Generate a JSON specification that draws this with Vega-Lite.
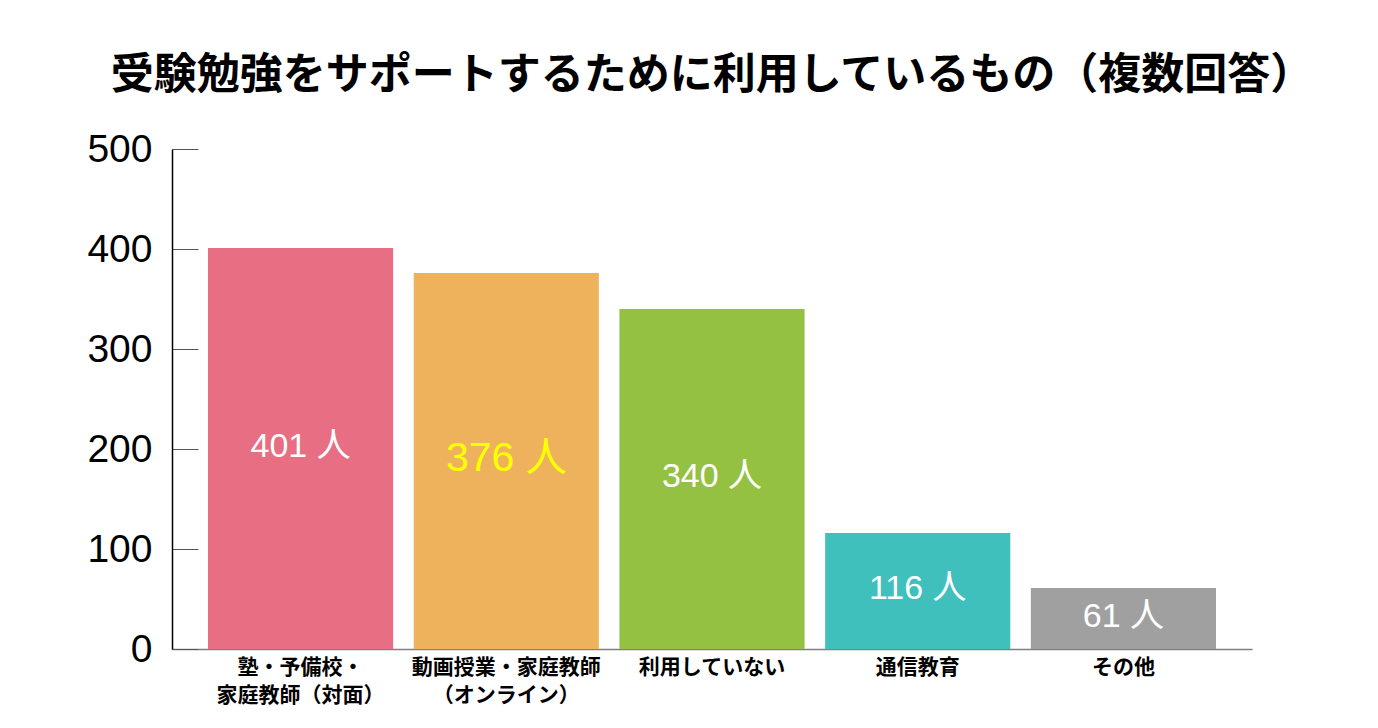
{
  "$schema": "https://vega.github.io/schema/vega-lite/v6.json",
  "width": 1080,
  "height": 500,
  "autosize": {"type": "none"},
  "padding": {"left": 172, "top": 149, "right": 126, "bottom": 79},
  "background": "white",
  "config": {"view": {"stroke": null}},
  "title": {
    "text": "受験勉強をサポートするために利用しているもの（複数回答）",
    "font": "Noto Sans CJK JP",
    "fontSize": 43,
    "fontWeight": "bold",
    "color": "#000000",
    "anchor": "middle",
    "offset": 32
  },
  "data": {
    "values": [
      {"category": "塾・予備校・|家庭教師（対面）", "count": 401, "label": "401 人", "color": "#E76E83"},
      {"category": "動画授業・家庭教師|（オンライン）", "count": 376, "label": "376 人", "color": "#EFB25C"},
      {"category": "利用していない", "count": 340, "label": "340 人", "color": "#95C142"},
      {"category": "通信教育", "count": 116, "label": "116 人", "color": "#40C0BC"},
      {"category": "その他", "count": 61, "label": "61 人", "color": "#A0A0A0"}
    ]
  },
  "encoding": {
    "x": {
      "field": "category",
      "type": "nominal",
      "sort": null,
      "scale": {"paddingInner": 0.1, "paddingOuter": 0.175},
      "axis": {
        "title": null,
        "labelAngle": 0,
        "labelExpr": "split(datum.label, '|')",
        "labelFont": "Noto Sans CJK JP",
        "labelFontWeight": "bold",
        "labelFontSize": 21,
        "labelColor": "#000000",
        "labelLineHeight": 28,
        "labelPadding": 7,
        "labelBaseline": "top",
        "labelLimit": 0,
        "ticks": false,
        "domainColor": "#808080",
        "domainWidth": 1.5,
        "grid": false
      }
    }
  },
  "layer": [
    {
      "mark": {"type": "bar"},
      "encoding": {
        "y": {
          "field": "count",
          "type": "quantitative",
          "scale": {"domain": [0, 500]},
          "axis": {
            "title": null,
            "values": [0, 100, 200, 300, 400, 500],
            "labelFont": "Liberation Sans",
            "labelFontSize": 39,
            "labelColor": "#000000",
            "labelPadding": 46,
            "tickSize": -26,
            "tickColor": "#555555",
            "tickWidth": 1,
            "domainColor": "#000000",
            "domainWidth": 1.5,
            "grid": false
          }
        },
        "color": {"field": "color", "type": "nominal", "scale": null, "legend": null}
      }
    },
    {
      "transform": [{"calculate": "datum.count / 2", "as": "mid"}],
      "mark": {"type": "text", "font": "Liberation Sans, Noto Sans CJK JP", "baseline": "middle", "align": "center", "dy": -2},
      "encoding": {
        "y": {"field": "mid", "type": "quantitative"},
        "text": {"field": "label"},
        "color": {"condition": {"test": "datum.count == 376", "value": "#FFFF00"}, "value": "#FFFFFF"},
        "size": {"condition": {"test": "datum.count == 376", "value": 41}, "value": 34}
      }
    }
  ]
}
